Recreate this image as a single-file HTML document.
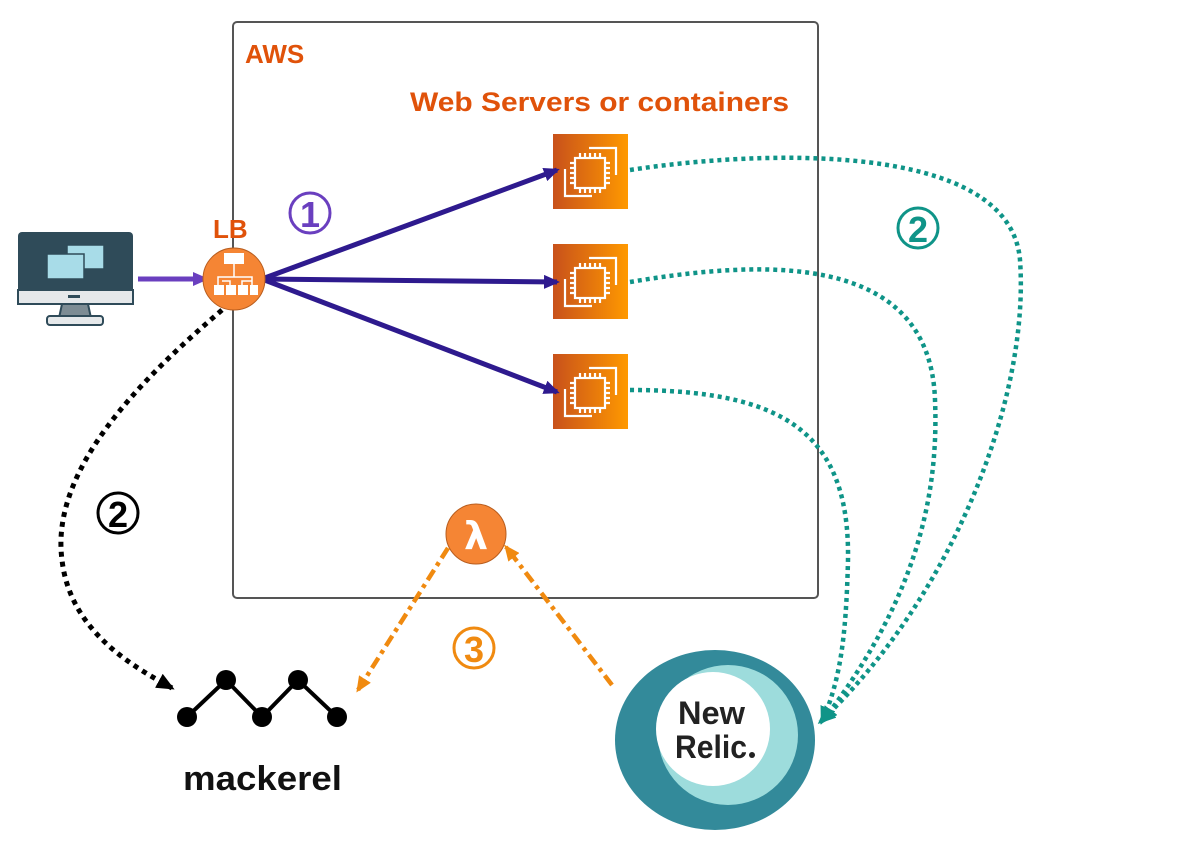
<!DOCTYPE html>
<html><head><meta charset="utf-8"><style>
html,body{margin:0;padding:0;background:#fff;width:1191px;height:842px;overflow:hidden}
</style></head><body>
<svg width="1191" height="842" viewBox="0 0 1191 842" xmlns="http://www.w3.org/2000/svg" font-family="Liberation Sans, DejaVu Sans, sans-serif">
<defs>
<linearGradient id="ec2" x1="0" y1="0" x2="1" y2="0"><stop offset="0" stop-color="#c8511b"/><stop offset="1" stop-color="#ff9900"/></linearGradient>
<marker id="ap" markerWidth="16" markerHeight="14" refX="13" refY="7" orient="auto" markerUnits="userSpaceOnUse"><path d="M0,0 L16,7 L0,14z" fill="#2e1a8e"/></marker>
<marker id="ap2" markerWidth="16" markerHeight="14" refX="13" refY="7" orient="auto" markerUnits="userSpaceOnUse"><path d="M0,0 L16,7 L0,14z" fill="#6a3fbf"/></marker>
<marker id="at" markerWidth="18" markerHeight="16" refX="15" refY="8" orient="auto" markerUnits="userSpaceOnUse"><path d="M0,0 L18,8 L0,16z" fill="#0f9488"/></marker>
<marker id="ab" markerWidth="18" markerHeight="16" refX="15" refY="8" orient="auto" markerUnits="userSpaceOnUse"><path d="M0,0 L18,8 L0,16z" fill="#000"/></marker>
<marker id="ao" markerWidth="16" markerHeight="14" refX="13" refY="7" orient="auto" markerUnits="userSpaceOnUse"><path d="M0,0 L16,7 L0,14z" fill="#f08a10"/></marker>
<g id="ec2i">
<rect x="0" y="0" width="75" height="75" fill="url(#ec2)"/>
<g fill="none" stroke="#fff" stroke-width="2.2">
<path d="M12,35 V62 H39"/><path d="M36,14 H63 V41"/>
<rect x="22" y="24" width="30" height="30"/>
<path d="M27,19v5M32,19v5M37,19v5M42,19v5M47,19v5M27,54v5M32,54v5M37,54v5M42,54v5M47,54v5M17,29h5M17,34h5M17,39h5M17,44h5M17,49h5M52,29h5M52,34h5M52,39h5M52,44h5M52,49h5"/>
</g></g>
</defs>
<rect x="233" y="22" width="585" height="576" rx="4" fill="none" stroke="#555" stroke-width="2"/>
<text x="245" y="63" font-size="26" font-weight="bold" fill="#e0520a">AWS</text>
<text x="410" y="111" font-size="27" font-weight="bold" fill="#e0520a" textLength="379" lengthAdjust="spacingAndGlyphs">Web Servers or containers</text>
<use href="#ec2i" x="553" y="134"/>
<use href="#ec2i" x="553" y="244"/>
<use href="#ec2i" x="553" y="354"/>
<g fill="none" stroke="#0f9488" stroke-width="4.5" stroke-dasharray="4,4" marker-end="url(#at)">
<path d="M630,170 C760,150 1010,140 1020,260 C1030,400 950,600 820,722"/>
<path d="M630,282 C760,260 930,250 935,400 C940,520 900,620 822,722"/>
<path d="M630,390 C780,390 850,430 848,560 C846,640 840,680 822,722"/>
</g>
<g stroke="#2e1a8e" stroke-width="5" fill="none" marker-end="url(#ap)">
<line x1="262" y1="279" x2="557" y2="170"/>
<line x1="262" y1="279" x2="557" y2="282"/>
<line x1="262" y1="279" x2="557" y2="392"/>
</g>
<line x1="138" y1="279" x2="206" y2="279" stroke="#6a3fbf" stroke-width="5" marker-end="url(#ap2)"/>
<path d="M222,310 C140,380 50,470 62,560 C70,630 130,665 172,688" fill="none" stroke="#000" stroke-width="5" stroke-dasharray="5,5" marker-end="url(#ab)"/>
<g fill="none" stroke="#f08a10" stroke-width="4.5" stroke-dasharray="12,5,4,5">
<line x1="448" y1="548" x2="358" y2="690" marker-end="url(#ao)"/>
<line x1="612" y1="685" x2="506" y2="547" marker-end="url(#ao)"/>
</g>
<rect x="18" y="232" width="115" height="72" rx="4" fill="#2f4b59"/>
<rect x="18" y="290" width="115" height="14" fill="#e5e8ea" stroke="#2f4b59" stroke-width="2"/>
<rect x="68" y="295" width="12" height="3" fill="#2f4b59"/>
<path d="M62,304 H88 L91,318 H59z" fill="#7d8c94" stroke="#2f4b59" stroke-width="2"/>
<rect x="47" y="316" width="56" height="9" rx="3" fill="#e5e8ea" stroke="#2f4b59" stroke-width="2"/>
<rect x="67" y="245" width="37" height="24" fill="#a8dce8" stroke="#2f4b59" stroke-width="1.5"/>
<rect x="47" y="254" width="37" height="25" fill="#a8dce8" stroke="#2f4b59" stroke-width="1.5"/>
<text x="213" y="238" font-size="26" font-weight="bold" fill="#e0520a">LB</text>
<circle cx="234" cy="279" r="31" fill="#f58534" stroke="#b85d1e" stroke-width="1"/>
<g fill="#fff"><rect x="224" y="253" width="20" height="11"/><rect x="214" y="285" width="10" height="10"/><rect x="226" y="285" width="10" height="10"/><rect x="238" y="285" width="10" height="10"/><rect x="250" y="285" width="8" height="10"/></g>
<path d="M234,264v6M218,285v-8h34v8M230,285v-4h-8M242,285v-4h10M234,270v7" stroke="#fff" stroke-width="1.5" fill="none"/>
<circle cx="476" cy="534" r="30" fill="#f58534" stroke="#b85d1e" stroke-width="1"/>
<text x="476" y="549" font-size="38" font-weight="bold" fill="#fff" text-anchor="middle" font-family="DejaVu Sans, sans-serif">λ</text>
<circle cx="310" cy="213" r="20" fill="none" stroke="#6a3fbf" stroke-width="3"/>
<text x="310" y="227" font-size="36" font-weight="bold" fill="#6a3fbf" text-anchor="middle">1</text>
<circle cx="918" cy="228" r="20" fill="none" stroke="#0f9488" stroke-width="3"/>
<text x="918" y="242" font-size="36" font-weight="bold" fill="#0f9488" text-anchor="middle">2</text>
<circle cx="118" cy="513" r="20" fill="none" stroke="#000" stroke-width="3"/>
<text x="118" y="527" font-size="36" font-weight="bold" fill="#000" text-anchor="middle">2</text>
<circle cx="474" cy="648" r="20" fill="none" stroke="#f08a10" stroke-width="3"/>
<text x="474" y="662" font-size="36" font-weight="bold" fill="#f08a10" text-anchor="middle">3</text>
<polyline points="187,717 226,680 262,717 298,680 337,717" fill="none" stroke="#000" stroke-width="4"/>
<g fill="#000"><circle cx="187" cy="717" r="10"/><circle cx="226" cy="680" r="10"/><circle cx="262" cy="717" r="10"/><circle cx="298" cy="680" r="10"/><circle cx="337" cy="717" r="10"/></g>
<text x="183" y="790" font-size="34" font-weight="bold" fill="#111" textLength="159" lengthAdjust="spacingAndGlyphs">mackerel</text>
<ellipse cx="715" cy="740" rx="100" ry="90" fill="#338a9a"/>
<circle cx="728" cy="735" r="70" fill="#9ddcdc"/>
<circle cx="713" cy="729" r="57" fill="#fff"/>
<text x="678" y="724" font-size="32" font-weight="bold" fill="#222" textLength="67" lengthAdjust="spacingAndGlyphs">New</text>
<text x="675" y="758" font-size="32" font-weight="bold" fill="#222" textLength="72" lengthAdjust="spacingAndGlyphs">Relic</text>
<circle cx="752" cy="755" r="3" fill="#222"/>
</svg>
</body></html>
